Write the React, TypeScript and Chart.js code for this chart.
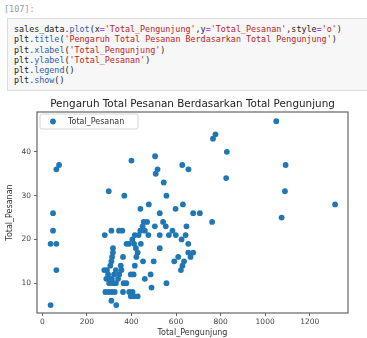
import React, { useEffect, useRef } from "react";
import { Chart, registerables } from "chart.js";

Chart.register(...registerables);

// ---- data ----
const pengunjung = [
  37, 63, 48, 48, 63, 37, 63, 75, 1050, 777, 766, 828, 628, 656, 1092, 825, 1089, 1314, 1074, 400,
  506, 517, 509, 545, 557, 298, 368, 440, 478, 527, 598, 631, 677, 707, 762, 455, 470, 450, 505, 542,
  554, 647, 280, 310, 344, 359, 415, 432, 440, 460, 476, 527, 568, 584, 599, 643, 625, 655, 389, 404,
  378, 412, 420, 428, 442, 527, 317, 317, 313, 310, 655, 677, 665, 610, 592, 636, 629, 622, 362, 422,
  452, 500, 415, 305, 352, 278, 290, 295, 300, 312, 318, 330, 340, 355, 365, 377, 345, 410, 460, 486,
  557, 300, 322, 397, 490, 283, 298, 312, 325, 362, 390, 397, 405, 412, 428, 310, 332, 287, 330,
];
const pesanan = [
  19, 19, 26, 22, 13, 5, 36, 37, 47, 44, 43, 40, 37, 36, 37, 34, 31, 28, 25, 38,
  39, 36, 35, 33, 30, 31, 30, 27, 28, 26, 27, 28, 26, 26, 24, 24, 24, 23, 23, 24,
  23, 23, 21, 22, 22, 22, 21, 21, 22, 22, 21, 21, 21, 22, 21, 21, 20, 19, 19, 20,
  19, 19, 18, 17, 19, 18, 18, 17, 16, 15, 17, 17, 16, 16, 15, 15, 14, 13, 16, 16,
  15, 15, 14, 14, 14, 13, 13, 12, 11, 11, 10, 10, 11, 13, 10, 10, 12, 12, 11, 12,
  10, 10, 12, 12, 9, 8, 8, 8, 8, 8, 8, 7, 8, 7, 7, 6, 5, 11, 13,
];
const xTicks = [0, 200, 400, 600, 800, 1000, 1200];
const yTicks = [10, 20, 30, 40];
const chartTitle = "Pengaruh Total Pesanan Berdasarkan Total Pengunjung";
const xLabel = "Total_Pengunjung";
const yLabel = "Total_Pesanan";
const seriesLabel = "Total_Pesanan";
const cellPrompt = "[107]:";
const codeLines = [
  "sales_data.plot(x='Total_Pengunjung',y='Total_Pesanan',style='o')",
  "plt.title('Pengaruh Total Pesanan Berdasarkan Total Pengunjung')",
  "plt.xlabel('Total_Pengunjung')",
  "plt.ylabel('Total_Pesanan')",
  "plt.legend()",
  "plt.show()",
];

const BLUE = "#1f77b4";
const SANS = "'DejaVu Sans', sans-serif";
const MONO = "'DejaVu Sans Mono', monospace";

function tokenize(line: string) {
  const parts: { t: string; c: string }[] = [];
  const re = /('[^']*')|(\.[A-Za-z_]+)|(=)|([^'.=]+)/g;
  let m: RegExpExecArray | null;
  while ((m = re.exec(line))) {
    if (m[1]) parts.push({ t: m[1], c: "#ba2121" });
    else if (m[2]) {
      parts.push({ t: ".", c: "#333" });
      parts.push({ t: m[2].slice(1), c: "#2f5fa8" });
    } else if (m[3]) parts.push({ t: m[3], c: "#aa22ff" });
    else parts.push({ t: m[4], c: "#222" });
  }
  return parts;
}

const framePlugin = {
  id: "frameBox",
  afterDatasetsDraw(chart: any) {
    const { ctx, chartArea: a } = chart;
    ctx.save();
    ctx.strokeStyle = "#666";
    ctx.lineWidth = 1.2;
    ctx.strokeRect(a.left, a.top, a.right - a.left, a.bottom - a.top);
    ctx.restore();
  },
};

const axesTitle = {
  id: "axesTitle",
  afterDraw(chart: any) {
    const { ctx, chartArea: a } = chart;
    ctx.save();
    ctx.fillStyle = "#222";
    ctx.font = `10.4px ${SANS}`;
    ctx.textAlign = "center";
    ctx.textBaseline = "middle";
    ctx.fillText(chartTitle, (a.left + a.right) / 2, a.top - 8);
    ctx.restore();
  },
};

const insideLegend = {
  id: "insideLegend",
  afterDraw(chart: any) {
    const { ctx, chartArea: a } = chart;
    const ds = chart.data.datasets[0];
    const x = a.left + 3;
    const y = a.top + 2;
    const w = 98;
    const h = 15;
    ctx.save();
    ctx.beginPath();
    const r = 2;
    ctx.moveTo(x + r, y);
    ctx.lineTo(x + w - r, y);
    ctx.quadraticCurveTo(x + w, y, x + w, y + r);
    ctx.lineTo(x + w, y + h - r);
    ctx.quadraticCurveTo(x + w, y + h, x + w - r, y + h);
    ctx.lineTo(x + r, y + h);
    ctx.quadraticCurveTo(x, y + h, x, y + h - r);
    ctx.lineTo(x, y + r);
    ctx.quadraticCurveTo(x, y, x + r, y);
    ctx.closePath();
    ctx.fillStyle = "rgba(255,255,255,0.85)";
    ctx.fill();
    ctx.strokeStyle = "#d6d6d6";
    ctx.lineWidth = 1;
    ctx.stroke();
    ctx.beginPath();
    ctx.arc(x + 13, y + h / 2, 2.9, 0, Math.PI * 2);
    ctx.fillStyle = BLUE;
    ctx.fill();
    ctx.fillStyle = "#333";
    ctx.font = `8px ${SANS}`;
    ctx.textBaseline = "middle";
    ctx.textAlign = "left";
    ctx.fillText(ds.label, x + 28, y + h / 2 + 0.5);
    ctx.restore();
  },
};

function ScatterChart() {
  const ref = useRef<HTMLCanvasElement | null>(null);
  useEffect(() => {
    if (!ref.current) return;
    const points = pengunjung.map((v, i) => ({ x: v, y: pesanan[i] }));
    const chart = new Chart(ref.current, {
      type: "scatter",
      data: {
        datasets: [
          {
            label: seriesLabel,
            data: points,
            backgroundColor: BLUE,
            borderColor: BLUE,
            borderWidth: 0,
            pointRadius: 2.9,
            pointHoverRadius: 2.9,
          },
        ],
      },
      options: {
        animation: false,
        responsive: false,
        devicePixelRatio: 1,
        events: [],
        layout: { padding: { left: 0, right: 19, top: 20, bottom: 0 } },
        plugins: {
          legend: { display: false },
          tooltip: { enabled: false },
          title: { display: false },
        },
        scales: {
          x: {
            type: "linear",
            min: -24,
            max: 1372,
            afterFit: (s: any) => {
              s.height = 25;
            },
            afterBuildTicks: (s: any) => {
              s.ticks = xTicks.map((v) => ({ value: v }));
            },
            grid: { drawOnChartArea: false, color: "#666", tickLength: 3, tickWidth: 1 },
            border: { display: false },
            ticks: {
              color: "#444",
              font: { family: SANS, size: 7.5 },
              padding: 2,
              maxRotation: 0,
              callback: (v: any) => String(v),
            },
            title: {
              display: true,
              text: xLabel,
              color: "#333",
              font: { family: SANS, size: 8 },
              padding: { top: 0, bottom: 0 },
            },
          },
          y: {
            type: "linear",
            min: 3.2,
            max: 49.1,
            afterFit: (s: any) => {
              s.width = 37;
            },
            afterBuildTicks: (s: any) => {
              s.ticks = yTicks.map((v) => ({ value: v }));
            },
            grid: { drawOnChartArea: false, color: "#666", tickLength: 3, tickWidth: 1 },
            border: { display: false },
            ticks: { color: "#444", font: { family: SANS, size: 7.5 }, padding: 3, callback: (v: any) => String(v) },
            title: {
              display: true,
              text: yLabel,
              color: "#333",
              font: { family: SANS, size: 8 },
              padding: { top: 5.5, bottom: 0 },
            },
          },
        },
      },
      plugins: [framePlugin, axesTitle, insideLegend],
    } as any);
    return () => chart.destroy();
  }, []);
  return <canvas ref={ref} width={367} height={246} style={{ display: "block", width: 367, height: 246 }} />;
}

export default function App() {
  useEffect(() => {
    document.body.style.margin = "0";
  }, []);
  return (
    <div style={{ position: "absolute", left: 0, top: 0, width: 367, height: 338, background: "#fff", overflow: "hidden" }}>
      <div
        style={{
          position: "absolute",
          left: 4,
          top: 3,
          fontFamily: MONO,
          fontSize: 8.5,
          color: "#9a9a9a",
          lineHeight: "12px",
        }}
      >
        {cellPrompt}
      </div>
      <div
        style={{
          position: "absolute",
          left: 7,
          top: 18,
          width: 362,
          height: 73,
          boxSizing: "border-box",
          background: "#f7f7f7",
          border: "1px solid #dcdcdc",
        }}
      >
        <div style={{ position: "absolute", left: 6, top: 5, fontFamily: MONO, fontSize: 8.4, lineHeight: "10.3px", whiteSpace: "pre" }}>
          {codeLines.map((ln, i) => (
            <div key={i}>
              {tokenize(ln).map((p, j) => (
                <span key={j} style={{ color: p.c }}>
                  {p.t}
                </span>
              ))}
            </div>
          ))}
        </div>
      </div>
      <div style={{ position: "absolute", left: 0, top: 92 }}>
        <ScatterChart />
      </div>
    </div>
  );
}
